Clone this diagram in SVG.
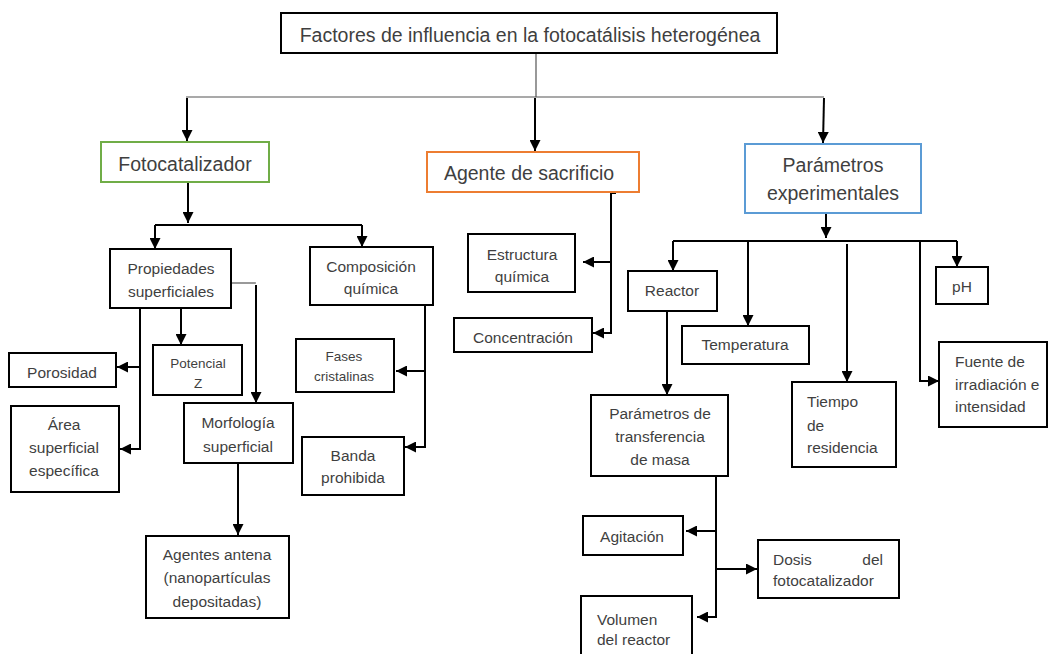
<svg xmlns="http://www.w3.org/2000/svg" width="1048" height="654" viewBox="0 0 1048 654">
<defs>
<style>
.b{fill:#fff;stroke:#000;stroke-width:2}
.t{font-family:"Liberation Sans",Arial,sans-serif;fill:#3f3f3f;font-size:15.5px;text-anchor:middle}
.s{font-size:13.5px}
.l{text-anchor:start}
.big{font-size:19.5px}
.c{fill:none;stroke:#000;stroke-width:2}
.g{fill:none;stroke:#555;stroke-width:1.2}
</style>
<marker id="ah" viewBox="0 0 10 10" refX="10" refY="5" markerWidth="11" markerHeight="11" markerUnits="userSpaceOnUse" orient="auto">
<path d="M0,0 L10,5 L0,10 z" fill="#000"/>
</marker>
</defs>
<rect width="1048" height="654" fill="#fff"/>
<g id="connectors">
<path class="g" d="M536,53 L536,97 M186,97 L824,97"/>
<path class="c" marker-end="url(#ah)" d="M187,98 L187,141"/>
<path class="c" marker-end="url(#ah)" d="M535,98 L535,151"/>
<path class="c" marker-end="url(#ah)" d="M824,98 L823,143"/>
<path class="c" marker-end="url(#ah)" d="M188,182 L188,223"/>
<path class="c" d="M155,225 L362,225"/>
<path class="c" marker-end="url(#ah)" d="M155,225 L155,249"/>
<path class="c" marker-end="url(#ah)" d="M362,225 L362,247"/>
<path class="g" d="M231,283 L256,283"/>
<path class="c" marker-end="url(#ah)" d="M256,285 L256,403"/>
<path class="c" marker-end="url(#ah)" d="M181,308 L181,345"/>
<path class="c" marker-end="url(#ah)" d="M140,308 L140,449 L120,449"/>
<path class="c" marker-end="url(#ah)" d="M140,367 L117,367"/>
<path class="c" marker-end="url(#ah)" d="M238,463 L238,535"/>
<path class="c" marker-end="url(#ah)" d="M425,305 L425,447 L405,447"/>
<path class="c" marker-end="url(#ah)" d="M425,371 L396,371"/>
<path class="c" marker-end="url(#ah)" d="M616,193 L611,193 L611,333 L593,333"/>
<path class="c" marker-end="url(#ah)" d="M611,262 L583,262"/>
<path class="c" marker-end="url(#ah)" d="M826,214 L826,238"/>
<path class="c" d="M673,241 L957,241"/>
<path class="c" marker-end="url(#ah)" d="M673,241 L673,271"/>
<path class="c" marker-end="url(#ah)" d="M748,241 L748,326"/>
<path class="c" marker-end="url(#ah)" d="M847,244 L847,382"/>
<path class="c" marker-end="url(#ah)" d="M920,241 L920,381 L939,381"/>
<path class="c" marker-end="url(#ah)" d="M957,241 L957,267"/>
<path class="c" marker-end="url(#ah)" d="M667,311 L667,395"/>
<path class="c" marker-end="url(#ah)" d="M716,476 L716,617 L697,617"/>
<path class="c" marker-end="url(#ah)" d="M716,531 L686,531"/>
<path class="c" marker-end="url(#ah)" d="M716,569 L757,569"/>
</g>
<g id="title"><rect class="b" x="281" y="13" width="496" height="40"/><text class="t" x="530" y="42" style="font-size:19.5px">Factores de influencia en la fotocatálisis heterogénea</text></g>
<g id="fotocatalizador"><rect class="b" x="101" y="142" width="168" height="40" style="stroke:#70AD47"/><text class="t big" x="185" y="171">Fotocatalizador</text></g>
<g id="agente"><rect class="b" x="427" y="152" width="212" height="40" style="stroke:#ED7D31"/><text class="t big" x="529" y="180">Agente de sacrificio</text></g>
<g id="parametros"><rect class="b" x="745" y="144" width="176" height="69" style="stroke:#5B9BD5"/><text class="t big" x="833" y="172">Parámetros</text><text class="t big" x="833" y="200">experimentales</text></g>
<g id="propiedades"><rect class="b" x="110" y="249" width="121" height="59"/><text class="t" x="171" y="274">Propiedades</text><text class="t" x="171" y="297">superficiales</text></g>
<g id="composicion"><rect class="b" x="310" y="247" width="123" height="58"/><text class="t" x="371" y="272">Composición</text><text class="t" x="371" y="294">química</text></g>
<g id="porosidad"><rect class="b" x="9" y="353" width="107" height="34"/><text class="t" x="62" y="378">Porosidad</text></g>
<g id="potencial"><rect class="b" x="153" y="345" width="89" height="50"/><text class="t s" x="198" y="368">Potencial</text><text class="t s" x="198" y="388">Z</text></g>
<g id="area"><rect class="b" x="11" y="406" width="108" height="86"/><text class="t" x="64" y="430">Área</text><text class="t" x="64" y="453">superficial</text><text class="t" x="64" y="476">específica</text></g>
<g id="morfologia"><rect class="b" x="184" y="403" width="109" height="60"/><text class="t" x="238" y="428">Morfología</text><text class="t" x="238" y="452">superficial</text></g>
<g id="agentes-antena"><rect class="b" x="146" y="536" width="143" height="82"/><text class="t" x="217" y="560">Agentes antena</text><text class="t" x="217" y="583">(nanopartículas</text><text class="t" x="217" y="607">depositadas)</text></g>
<g id="fases"><rect class="b" x="296" y="339" width="98" height="53"/><text class="t s" x="344" y="361">Fases</text><text class="t s" x="344" y="381">cristalinas</text></g>
<g id="banda"><rect class="b" x="302" y="437" width="102" height="58"/><text class="t" x="353" y="461">Banda</text><text class="t" x="353" y="483">prohibida</text></g>
<g id="estructura"><rect class="b" x="468" y="234" width="107" height="58"/><text class="t" x="522" y="260">Estructura</text><text class="t" x="522" y="282">química</text></g>
<g id="concentracion"><rect class="b" x="454" y="318" width="138" height="34"/><text class="t" x="523" y="343">Concentración</text></g>
<g id="reactor"><rect class="b" x="628" y="271" width="89" height="40"/><text class="t" x="672" y="296">Reactor</text></g>
<g id="temperatura"><rect class="b" x="682" y="326" width="127" height="38"/><text class="t" x="745" y="350">Temperatura</text></g>
<g id="tiempo"><rect class="b" x="792" y="382" width="104" height="85"/><text class="t l" x="807" y="407">Tiempo</text><text class="t l" x="807" y="431">de</text><text class="t l" x="807" y="453">residencia</text></g>
<g id="ph"><rect class="b" x="936" y="267" width="52" height="37"/><text class="t" x="962" y="292">pH</text></g>
<g id="fuente"><rect class="b" x="939" y="342" width="108" height="85"/><text class="t l" x="955" y="367">Fuente de</text><text class="t l" x="955" y="390">irradiación e</text><text class="t l" x="955" y="412">intensidad</text></g>
<g id="transferencia"><rect class="b" x="591" y="395" width="137" height="81"/><text class="t" x="660" y="419">Parámetros de</text><text class="t" x="660" y="442">transferencia</text><text class="t" x="660" y="465">de masa</text></g>
<g id="agitacion"><rect class="b" x="583" y="516" width="100" height="39"/><text class="t" x="632" y="542">Agitación</text></g>
<g id="dosis"><rect class="b" x="758" y="540" width="141" height="58"/><text class="t l" x="773" y="565">Dosis</text><text class="t" x="883" y="565" style="text-anchor:end">del</text><text class="t l" x="773" y="586">fotocatalizador</text></g>
<g id="volumen"><rect class="b" x="581" y="596" width="111" height="70"/><text class="t l" x="597" y="625">Volumen</text><text class="t l" x="597" y="645">del reactor</text></g>
</svg>
